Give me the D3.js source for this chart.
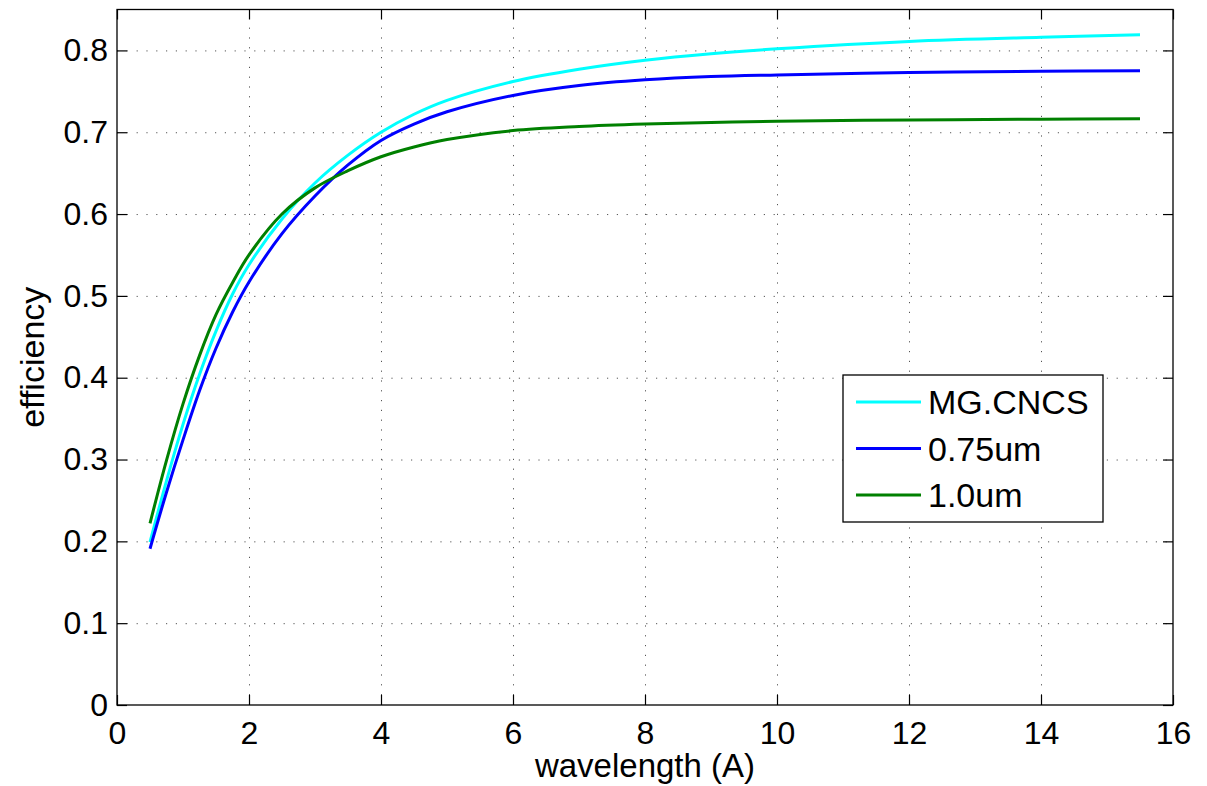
<!DOCTYPE html>
<html>
<head>
<meta charset="utf-8">
<script src="https://cdn.jsdelivr.net/npm/d3@7"></script>
<style>
  body { margin: 0; background: #fff; }
  svg text { font-family: "Liberation Sans", Arial, Helvetica, sans-serif; fill: #000; }
</style>
</head>
<body>
<div id="chart"></div>
<script>
// efficiency vs wavelength
var wavelength = [0.5, 0.75, 1, 1.25, 1.5, 1.75, 2, 2.5, 3, 3.5, 4, 4.5, 5, 6, 7, 8, 9, 10, 12, 14, 15.5];
var effCNCS = [0.199, 0.274, 0.343, 0.404, 0.457, 0.502, 0.538, 0.594, 0.638, 0.672, 0.700, 0.722, 0.739, 0.762, 0.777, 0.788, 0.796, 0.802, 0.811, 0.816, 0.819];
var eff075 = [0.191, 0.260, 0.324, 0.384, 0.436, 0.480, 0.517, 0.576, 0.622, 0.660, 0.690, 0.710, 0.725, 0.745, 0.757, 0.764, 0.768, 0.770, 0.773, 0.7745, 0.775];
var eff10 = [0.222, 0.299, 0.368, 0.427, 0.477, 0.516, 0.550, 0.600, 0.632, 0.653, 0.670, 0.682, 0.691, 0.702, 0.707, 0.710, 0.712, 0.7135, 0.715, 0.716, 0.7165];

var seriesNames = ["MG.CNCS", "0.75um", "1.0um"];
var seriesColors = ["#00ffff", "#0000ff", "#008000"];

var xTicks = [0, 2, 4, 6, 8, 10, 12, 14, 16];
var yTicks = [0, 0.1, 0.2, 0.3, 0.4, 0.5, 0.6, 0.7, 0.8];
var yTickLabels = ["0", "0.1", "0.2", "0.3", "0.4", "0.5", "0.6", "0.7", "0.8"];

// plot box in page pixels (note: "top" is taken by window.top)
var width = 1207,
    height = 786,
    boxLeft = 117,
    boxRight = 1173,
    boxTop = 9.5,
    boxBottom = 705;

var x = d3.scaleLinear().domain([0, 16]).range([boxLeft, boxRight]),
    y = d3.scaleLinear().domain([0, 0.85]).range([boxBottom, boxTop]);

var svg = d3.select("#chart").
    append("svg").
    attr("width", width).
    attr("height", height);

// dotted grid
svg.append("g").
    attr("class", "grid").
    attr("transform", "translate(0," + boxBottom + ")").
    call(d3.axisBottom(x).tickValues(xTicks.slice(1, -1)).tickSize(-(boxBottom - boxTop)).tickFormat(""));
svg.append("g").
    attr("class", "grid").
    attr("transform", "translate(" + boxLeft + ",0)").
    call(d3.axisLeft(y).tickValues(yTicks.slice(1)).tickSize(-(boxRight - boxLeft)).tickFormat(""));
svg.selectAll(".grid .domain").remove();
svg.selectAll(".grid line").
    attr("stroke", "#555").
    attr("stroke-dasharray", "1.2,8.6");

// curves
var table = seriesNames.map(function(name, i) {
    var vals = [effCNCS, eff075, eff10][i];
    return {
        name: name,
        color: seriesColors[i],
        values: wavelength.map(function(w, j) { return {w: w, e: vals[j]}; })
    };
});

var line = d3.line().
    curve(d3.curveCatmullRom.alpha(0.5)).
    x(function(d) { return x(d.w); }).
    y(function(d) { return y(d.e); });

svg.selectAll(".curve").
    data(table).
    enter().
    append("path").
    attr("class", "curve").
    attr("fill", "none").
    attr("stroke", function(d) { return d.color; }).
    attr("stroke-width", 3).
    attr("d", function(d) { return line(d.values); });

// axes, ticks pointing inward on all four sides
var fontSize = 32;
svg.append("g").
    attr("class", "axis").
    attr("transform", "translate(0," + boxBottom + ")").
    call(d3.axisBottom(x).tickValues(xTicks).tickSize(-10).tickPadding(16));
svg.append("g").
    attr("class", "axis").
    attr("transform", "translate(" + boxLeft + ",0)").
    call(d3.axisLeft(y).tickValues(yTicks).tickSize(-10).tickPadding(9).
        tickFormat(function(d, i) { return yTickLabels[i]; }));
svg.append("g").
    attr("class", "axis").
    attr("transform", "translate(0," + boxTop + ")").
    call(d3.axisTop(x).tickValues(xTicks).tickSize(-10).tickFormat(""));
svg.append("g").
    attr("class", "axis").
    attr("transform", "translate(" + boxRight + ",0)").
    call(d3.axisRight(y).tickValues(yTicks).tickSize(-10).tickFormat(""));

svg.selectAll(".axis .domain").remove();
svg.selectAll(".axis").attr("font-family", null).attr("font-size", fontSize);
svg.selectAll(".axis .tick line").
    attr("stroke", "#000").
    attr("stroke-width", 1.2);

// frame
svg.append("rect").
    attr("x", boxLeft).
    attr("y", boxTop).
    attr("width", boxRight - boxLeft).
    attr("height", boxBottom - boxTop).
    attr("fill", "none").
    attr("stroke", "#000").
    attr("stroke-width", 1.3);

// axis titles
svg.append("text").
    attr("x", (boxLeft + boxRight) / 2).
    attr("y", 777).
    attr("text-anchor", "middle").
    attr("font-size", 33).
    text("wavelength (A)");
svg.append("text").
    attr("transform", "translate(44," + ((boxTop + boxBottom) / 2) + ") rotate(-90)").
    attr("text-anchor", "middle").
    attr("font-size", 34).
    text("efficiency");

// legend
var legend = svg.append("g").attr("transform", "translate(843,375)");
legend.append("rect").
    attr("width", 260).
    attr("height", 147).
    attr("fill", "#fff").
    attr("stroke", "#000").
    attr("stroke-width", 1.3);
var item = legend.selectAll(".item").
    data(table).
    enter().
    append("g").
    attr("class", "item").
    attr("transform", function(d, i) { return "translate(0," + (27 + i * 46.5) + ")"; });
item.append("line").
    attr("x1", 13).
    attr("x2", 78).
    attr("stroke", function(d) { return d.color; }).
    attr("stroke-width", 3);
item.append("text").
    attr("x", 85).
    attr("dy", "0.36em").
    attr("font-size", 34).
    text(function(d) { return d.name; });
</script>
</body>
</html>
